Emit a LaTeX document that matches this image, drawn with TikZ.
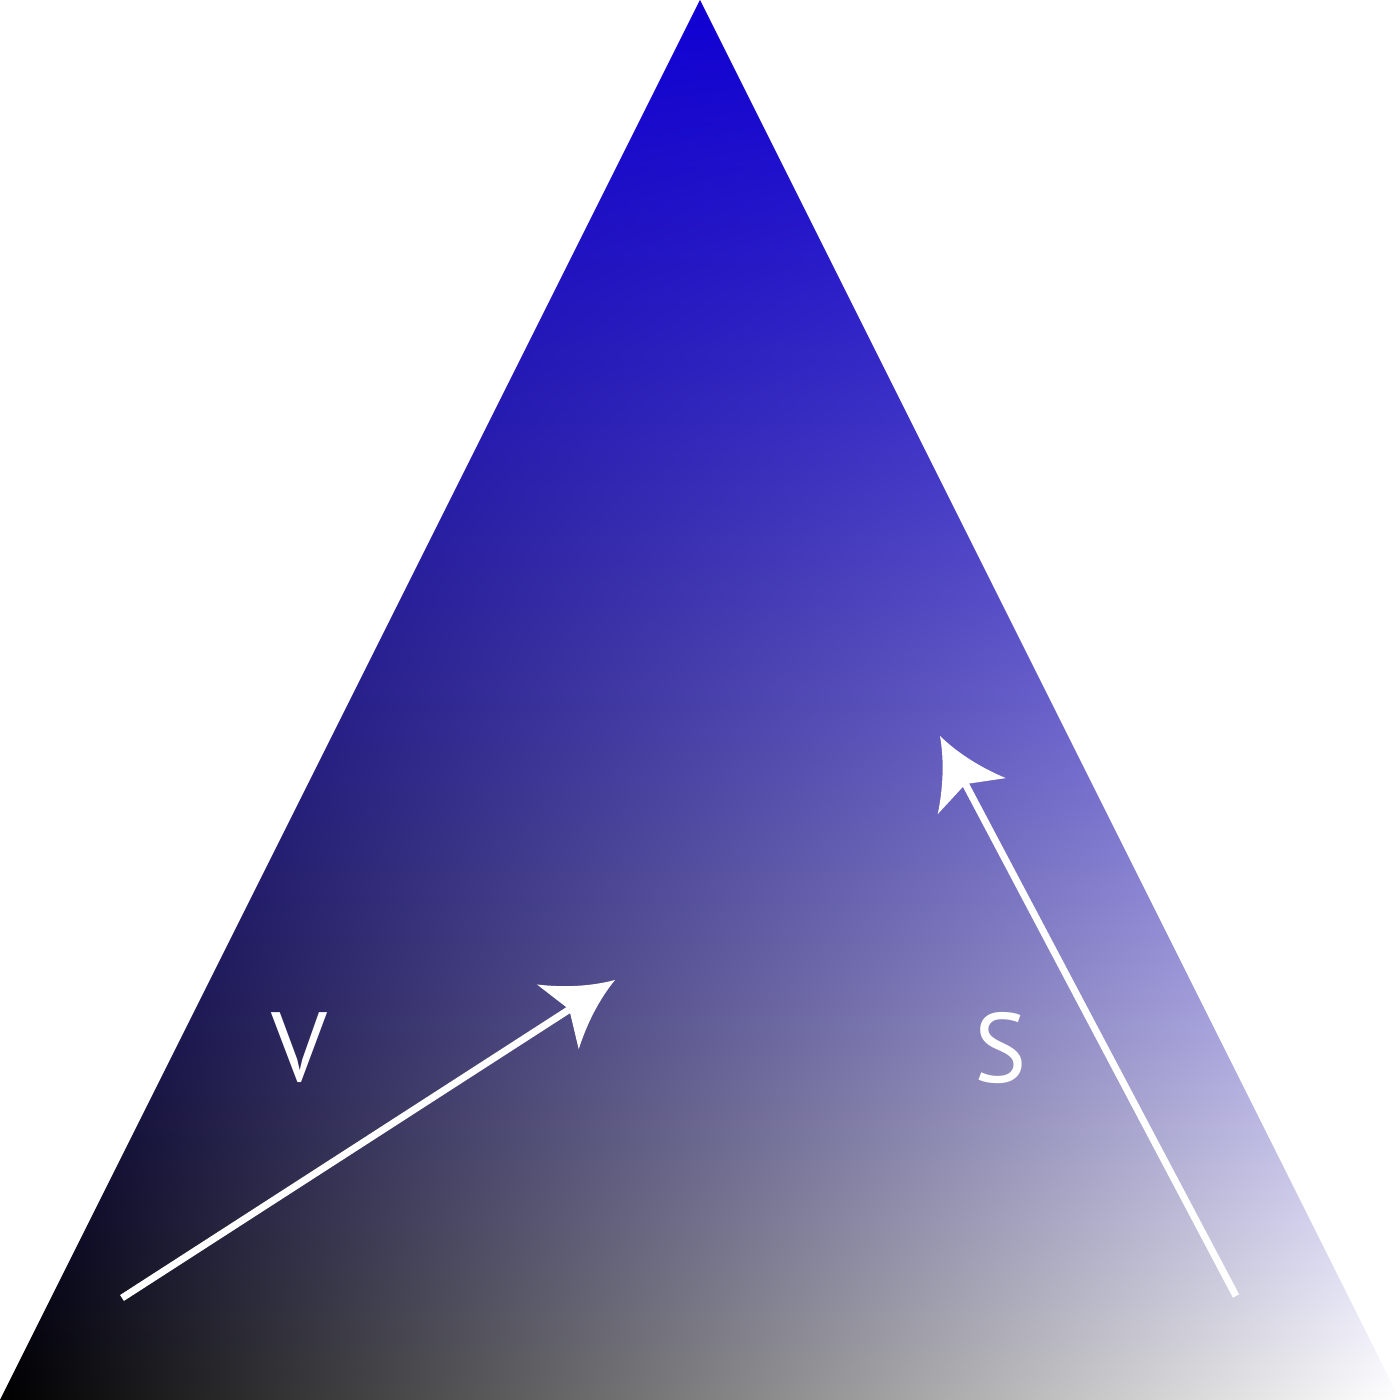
\documentclass[tikz,border=0pt]{standalone}
\usepackage{fontspec}
\setsansfont{PT Sans}
\usetikzlibrary{arrows.meta}

% top blue, bottom-left black, bottom-right white
\pgfdeclarefunctionalshading{prism}{\pgfpoint{-50bp}{-50bp}}{\pgfpoint{50bp}{50bp}}{}{
  25 exch sub 50 div
  exch 25 add 50 div
  1 index mul
  exch 1 exch sub
  2 copy 0.063 mul add
  3 1 roll
  2 copy 0.83 mul add
  exch pop
}

% arrow head with hollow sides
\pgfdeclarearrow{
  name=Swept,
  setup code={
    \pgfarrowssettipend{0pt}
    \pgfarrowssetlineend{-0.8\pgfarrowlength}
    \pgfarrowssetvisualbackend{-\pgfarrowlength}
    \pgfarrowssetbackend{-\pgfarrowlength}
    \pgfarrowsupperhullpoint{-\pgfarrowlength}{0.5\pgfarrowwidth}
    \pgfarrowssavethe\pgfarrowlength
    \pgfarrowssavethe\pgfarrowwidth
  },
  drawing code={
    \pgfpathmoveto{\pgfqpoint{0pt}{0pt}}
    \pgfpathcurveto{\pgfqpoint{-0.35\pgfarrowlength}{0.1\pgfarrowwidth}}{\pgfqpoint{-0.7\pgfarrowlength}{0.28\pgfarrowwidth}}{\pgfqpoint{-\pgfarrowlength}{0.5\pgfarrowwidth}}
    \pgfpathlineto{\pgfqpoint{-0.8\pgfarrowlength}{0pt}}
    \pgfpathlineto{\pgfqpoint{-\pgfarrowlength}{-0.5\pgfarrowwidth}}
    \pgfpathcurveto{\pgfqpoint{-0.7\pgfarrowlength}{-0.28\pgfarrowwidth}}{\pgfqpoint{-0.35\pgfarrowlength}{-0.1\pgfarrowwidth}}{\pgfqpoint{0pt}{0pt}}
    \pgfpathclose
    \pgfusepathqfill
  },
  parameters={\the\pgfarrowlength,\the\pgfarrowwidth},
  defaults={length=0.68cm, width=0.77cm}
}

\tikzset{
  vec/.style={draw=white, line width=2pt, -{Swept[length=0.68cm, width=0.77cm]}},
  lab/.style={text=white, font=\sffamily\fontsize{28}{30}\selectfont, inner sep=0pt}
}

\begin{document}
\begin{tikzpicture}
\useasboundingbox (0,0) rectangle (14,14);

% Triangle
\shade[shading=prism] (7,14) -- (0,0) -- (14,0) -- cycle;

% Arrows
\coordinate (vstart) at (1.22,1.02);
\coordinate (vtip) at (6.15,4.20);
\coordinate (sstart) at (12.36,1.04);
\coordinate (stip) at (9.40,6.64);
\draw[vec] (vstart) -- (vtip);
\draw[vec] (sstart) -- (stip);

% Labels
\node[lab] (vlabel) at (2.99,3.52) {V};
\node[lab] (slabel) at (10.01,3.52) {S};

\end{tikzpicture}
\end{document}
